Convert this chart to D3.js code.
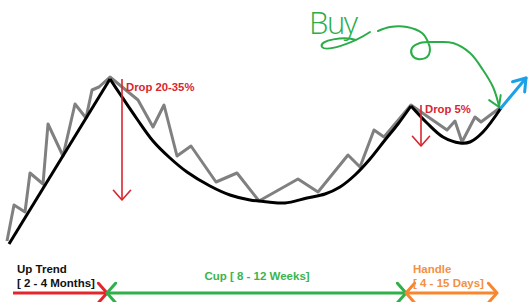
<!DOCTYPE html>
<html>
<head>
<meta charset="utf-8">
<script src="https://cdn.jsdelivr.net/npm/d3@7"></script>
<style>
html,body{margin:0;padding:0;background:#fff;}
svg{display:block;}
text{font-family:"Liberation Sans",Arial,sans-serif;font-weight:bold;}
</style>
</head>
<body>
<svg id="chart" width="528" height="302"></svg>
<script>
// ---- data (x = time units, value = price units) ----
const priceX = [7,14,25,30,43,48,63,75,86,92,99,110,138,153,164,177,191,216,237,259,298,318,348,360,374,384,411,447,455,462,475,481,501];
const priceV = [61,97,90,129,118,178,146,198,184,212,215,225,202,175,197,146,156,120,129,101,123,110,147,135,172,165,197,172,181,160,185,180,195];

const trendX = [9,110];
const trendV = [58,223];

const cupX = [110,120,137,153,170,187,210,230,250,268,285,307,325,340,355,370,385,398,411];
const cupV = [223,208,183,161,144,130,116,107,102,100,99,104,108,115,127,143,162,178,196];

const handleX = [411,427,443,460,470,483,501];
const handleV = [196,179,165,159,160,170,194];

const breakoutX = [501,526];
const breakoutV = [194,224];

const buyX = [378,390,407,422,428,430,427,418,412,412,420,437,453,470,483,493,498,499];
const buyV = [271,275,275,269,260,252,245,243,247,254,259,260,259,249,232,215,200,195];

const dropLabels = ["Drop 20-35%", "Drop 5%"];
const dropX = [122, 421];
const dropFrom = [223, 197];
const dropTo = [102, 156];

const phaseNames = ["upTrend","cup","handle"];
const phaseStart = [13, 107, 406];
const phaseEnd = [107, 406, 497];
const phaseLines = [["Up Trend","[ 2 - 4 Months]"], ["Cup [ 8 - 12 Weeks]"], ["Handle","[ 4 - 15 Days]"]];
const phaseLevel = 9;

// ---- styles / layout ----
const phaseColor = ["#e3262d","#2fb04a","#f7862f"];
const phaseTextColor = ["#111","#3ab54d","#f3913f"];
const phaseBoth = [false,true,true];
const dropLabelDy = [12, 8];

// ---- scales ----
const W = 528, H = 302;
const x = d3.scaleLinear().domain([0,528]).range([0,W]);
const y = d3.scaleLinear().domain([0,302]).range([H,0]);

const svg = d3.select("#chart");
svg.append("rect").attr("width",W).attr("height",H).attr("fill","#fff");

const zip = (xs,vs) => xs.map((d,i)=>[d,vs[i]]);
const lineLin = d3.line().x(d=>x(d[0])).y(d=>y(d[1]));
const lineSmooth = d3.line().x(d=>x(d[0])).y(d=>y(d[1])).curve(d3.curveCatmullRom.alpha(0.5));

function arrowHead(g, tip, from, len, ang, color, w){
  const dx = x(tip[0]) - x(from[0]), dy = y(tip[1]) - y(from[1]);
  const a = Math.atan2(dy,dx);
  const tx = x(tip[0]), ty = y(tip[1]);
  const p1 = [tx - len*Math.cos(a-ang), ty - len*Math.sin(a-ang)];
  const p2 = [tx - len*Math.cos(a+ang), ty - len*Math.sin(a+ang)];
  g.append("path").attr("d",`M${p1[0]},${p1[1]}L${tx},${ty}L${p2[0]},${p2[1]}`)
    .attr("fill","none").attr("stroke",color).attr("stroke-width",w)
    .attr("stroke-linejoin","round").attr("stroke-linecap","round");
}

// gray price line
svg.append("path").datum(zip(priceX,priceV)).attr("d",lineLin)
  .attr("fill","none").attr("stroke","#808080").attr("stroke-width",3)
  .attr("stroke-linejoin","round");

// black pattern lines
svg.append("path").datum(zip(trendX,trendV)).attr("d",lineLin)
  .attr("fill","none").attr("stroke","#000").attr("stroke-width",3);
svg.append("path").datum(zip(cupX,cupV)).attr("d",lineSmooth)
  .attr("fill","none").attr("stroke","#000").attr("stroke-width",3);
svg.append("path").datum(zip(handleX,handleV)).attr("d",lineSmooth)
  .attr("fill","none").attr("stroke","#000").attr("stroke-width",3);

// blue breakout arrow
const blue = svg.append("g");
const bo = zip(breakoutX,breakoutV);
blue.append("path").datum(bo).attr("d",lineLin)
  .attr("fill","none").attr("stroke","#1ca0e6").attr("stroke-width",3).attr("stroke-linecap","round");
arrowHead(blue, bo[1], bo[0], 14, 0.6, "#1ca0e6", 3);

// drop arrows
dropLabels.forEach((label,i)=>{
  const g = svg.append("g");
  g.append("line").attr("x1",x(dropX[i])).attr("x2",x(dropX[i])).attr("y1",y(dropFrom[i])).attr("y2",y(dropTo[i]))
    .attr("stroke","#d9262e").attr("stroke-width",1.6);
  arrowHead(g,[dropX[i],dropTo[i]],[dropX[i],dropFrom[i]],13,0.72,"#d9262e",1.6);
  g.append("text").attr("x",x(dropX[i])+4).attr("y",y(dropFrom[i])+dropLabelDy[i])
    .attr("fill","#d9262e").attr("font-size",11.3).text(label);
});

// Buy annotation
const buy = svg.append("g");
const bp = zip(buyX,buyV);
buy.append("path").datum(bp).attr("d",lineSmooth)
  .attr("fill","none").attr("stroke","#2aad48").attr("stroke-width",2).attr("stroke-linecap","round");
arrowHead(buy, bp[bp.length-1], bp[bp.length-4], 12, 0.55, "#2aad48", 2);
buy.append("text").attr("x",x(309)).attr("y",y(268))
  .attr("fill","#2aad48").attr("font-size",31)
  .attr("letter-spacing",-1.5)
  .style("font-family","'Open Sans','DejaVu Sans',sans-serif").style("font-weight",300)
  .text("Buy");
buy.append("path")
  .attr("d",`M${x(356)},${y(262)} C${x(345)},${y(266)} ${x(318)},${y(262)} ${x(322)},${y(255)} C${x(326)},${y(250)} ${x(352)},${y(258)} ${x(370)},${y(270)}`)
  .attr("fill","none").attr("stroke","#2aad48").attr("stroke-width",2).attr("stroke-linecap","round");

// phase spans
phaseNames.forEach((n,i)=>{
  const g = svg.append("g");
  const yy = y(phaseLevel);
  g.append("line").attr("x1",x(phaseStart[i])).attr("x2",x(phaseEnd[i])).attr("y1",yy).attr("y2",yy)
    .attr("stroke",phaseColor[i]).attr("stroke-width",3);
  arrowHead(g,[phaseEnd[i],phaseLevel],[phaseStart[i],phaseLevel],13,0.85,phaseColor[i],3);
  if(phaseBoth[i]) arrowHead(g,[phaseStart[i],phaseLevel],[phaseEnd[i],phaseLevel],13,0.85,phaseColor[i],3);
});
// phase labels
const t1 = svg.append("text").attr("fill",phaseTextColor[0]).attr("font-size",11.5);
t1.append("tspan").attr("x",x(17)).attr("y",y(29)).text(phaseLines[0][0]);
t1.append("tspan").attr("x",x(17)).attr("y",y(15)).text(phaseLines[0][1]);
svg.append("text").attr("fill",phaseTextColor[1]).attr("font-size",11.5)
  .attr("text-anchor","middle").attr("x",x(257)).attr("y",y(22)).text(phaseLines[1][0]);
const t3 = svg.append("text").attr("fill",phaseTextColor[2]).attr("font-size",11.5);
t3.append("tspan").attr("x",x(413)).attr("y",y(29)).text(phaseLines[2][0]);
t3.append("tspan").attr("x",x(413)).attr("y",y(15)).text(phaseLines[2][1]);
</script>
</body>
</html>
